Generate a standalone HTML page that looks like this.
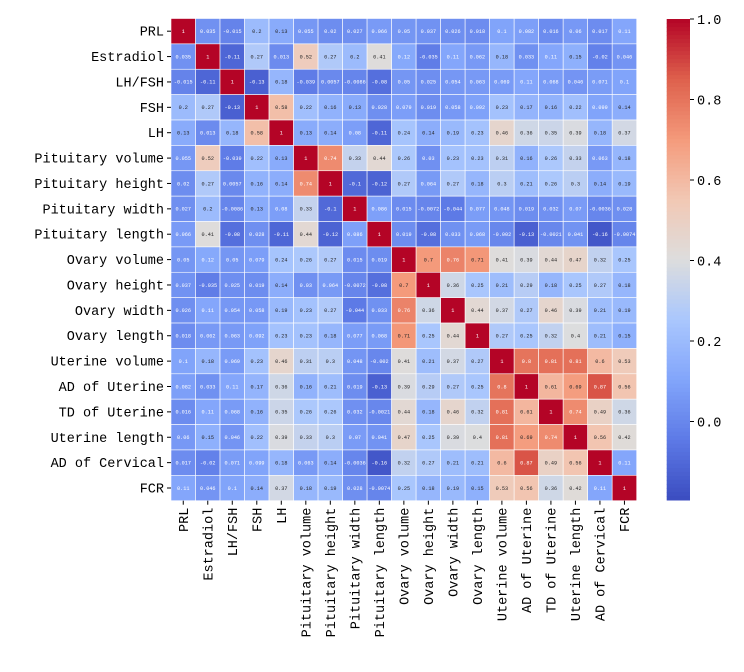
<!DOCTYPE html>
<html><head><meta charset="utf-8"><style>
body{margin:0;background:#fff;}
svg text{font-family:"Liberation Mono","DejaVu Sans Mono",monospace;}
</style></head><body>
<svg id="chart" width="744" height="667" xmlns="http://www.w3.org/2000/svg"></svg>
<script>
const labels = ["PRL","Estradiol","LH/FSH","FSH","LH","Pituitary volume","Pituitary height","Pituitary width","Pituitary length","Ovary volume","Ovary height","Ovary width","Ovary length","Uterine volume","AD of Uterine","TD of Uterine","Uterine length","AD of Cervical","FCR"];
const r0 = [1,.035,-.015,.2,.13,.055,.02,.027,.066,.05,.037,.026,.018,.1,.082,.016,.06,.017,.11];
const r1 = [.035,1,-.11,.27,.013,.52,.27,.2,.41,.12,-.035,.11,.062,.18,.033,.11,.15,-.02,.046];
const r2 = [-.015,-.11,1,-.13,.18,-.039,.0057,-.0086,-.08,.05,.025,.054,.063,.069,.11,.068,.046,.071,.1];
const r3 = [.2,.27,-.13,1,.58,.22,.16,.13,.028,.079,.019,.058,.092,.23,.17,.16,.22,.099,.14];
const r4 = [.13,.013,.18,.58,1,.13,.14,.08,-.11,.24,.14,.19,.23,.46,.36,.35,.39,.18,.37];
const r5 = [.055,.52,-.039,.22,.13,1,.74,.33,.44,.26,.03,.23,.23,.31,.16,.26,.33,.063,.18];
const r6 = [.02,.27,.0057,.16,.14,.74,1,-.1,-.12,.27,.064,.27,.18,.3,.21,.26,.3,.14,.19];
const r7 = [.027,.2,-.0086,.13,.08,.33,-.1,1,.086,.015,-.0072,-.044,.077,.048,.019,.032,.07,-.0036,.028];
const r8 = [.066,.41,-.08,.028,-.11,.44,-.12,.086,1,.019,-.08,.033,.068,-.002,-.13,-.0021,.041,-.16,-.0074];
const r9 = [.05,.12,.05,.079,.24,.26,.27,.015,.019,1,.7,.76,.71,.41,.39,.44,.47,.32,.25];
const r10 = [.037,-.035,.025,.019,.14,.03,.064,-.0072,-.08,.7,1,.36,.25,.21,.29,.18,.25,.27,.18];
const r11 = [.026,.11,.054,.058,.19,.23,.27,-.044,.033,.76,.36,1,.44,.37,.27,.46,.39,.21,.19];
const r12 = [.018,.062,.063,.092,.23,.23,.18,.077,.068,.71,.25,.44,1,.27,.25,.32,.4,.21,.15];
const r13 = [.1,.18,.069,.23,.46,.31,.3,.048,-.002,.41,.21,.37,.27,1,.8,.81,.81,.6,.53];
const r14 = [.082,.033,.11,.17,.36,.16,.21,.019,-.13,.39,.29,.27,.25,.8,1,.61,.69,.87,.56];
const r15 = [.016,.11,.068,.16,.35,.26,.26,.032,-.0021,.44,.18,.46,.32,.81,.61,1,.74,.49,.36];
const r16 = [.06,.15,.046,.22,.39,.33,.3,.07,.041,.47,.25,.39,.4,.81,.69,.74,1,.56,.42];
const r17 = [.017,-.02,.071,.099,.18,.063,.14,-.0036,-.16,.32,.27,.21,.21,.6,.87,.49,.56,1,.11];
const r18 = [.11,.046,.1,.14,.37,.18,.19,.028,-.0074,.25,.18,.19,.15,.53,.56,.36,.42,.11,1];
const matrix = [r0,r1,r2,r3,r4,r5,r6,r7,r8,r9,r10,r11,r12,r13,r14,r15,r16,r17,r18];
const cbTicks = [0.0,0.2,0.4,0.6,0.8,1.0];

const VMIN=-0.195, VMAX=1.0;
const X0=171, X1=636.7, Y0=18.5, Y1=500.7;
const n=labels.length, cw=(X1-X0)/n, ch=(Y1-Y0)/n;
const xPos=i=>X0+i*cw, yPos=i=>Y0+i*ch;
const CB={x:666.7,w:23.3,top:19,bot:500};
const cbY=v=>CB.top+(VMAX-v)/(VMAX-VMIN)*(CB.bot-CB.top);

const stops=[[0,59,76,192],[.125,93,122,230],[.25,130,165,251],[.375,170,199,253],[.5,221,221,221],[.625,242,200,180],[.75,244,154,123],[.875,222,96,76],[1,180,4,38]];
function cmap(v){
  let t=Math.max(0,Math.min(1,(v-VMIN)/(VMAX-VMIN)));
  for(let k=1;k<stops.length;k++){
    if(t<=stops[k][0]){
      const a=stops[k-1],b=stops[k],f=(t-a[0])/(b[0]-a[0]);
      return [0,1,2].map(j=>Math.round(a[j+1]+(b[j+1]-a[j+1])*f));
    }
  }
  return [180,4,38];
}
function lum(c){const l=c.map(x=>{x/=255;return x<=0.03928?x/12.92:Math.pow((x+0.055)/1.055,2.4)});return .2126*l[0]+.7152*l[1]+.0722*l[2];}
const NS="http://www.w3.org/2000/svg";
const svg=document.getElementById('chart');
function mk(t,attrs){const e=document.createElementNS(NS,t);for(const k in attrs)e.setAttribute(k,attrs[k]);svg.appendChild(e);return e;}

for(let i=0;i<n;i++){
  for(let j=0;j<n;j++){
    const v=matrix[i][j], c=cmap(v);
    const r=mk('rect',{x:xPos(j),y:yPos(i),width:cw,height:ch,fill:`rgb(${c})`,stroke:'#fff','stroke-width':0.6});
    
    
    const t=mk('text',{x:xPos(j)+cw/2,y:yPos(i)+ch/2+1.8,'text-anchor':'middle','font-size':5.2,fill:lum(c)<0.408?'#fff':'#262626'});
    t.textContent=String(v).replace(/^(-?)0\./,'$10.');
    
    
  }
}
for(let i=0;i<n;i++){
  const y=yPos(i)+ch/2;
  mk('line',{x1:X0-4,x2:X0,y1:y,y2:y,stroke:'#000','stroke-width':1});
  const t=mk('text',{x:X0-7,y:y+4.5,'text-anchor':'end','font-size':13.5,fill:'#000'});
  t.textContent=labels[i];
  
  
  const x=xPos(i)+cw/2;
  mk('line',{x1:x,x2:x,y1:Y1,y2:Y1+4,stroke:'#000','stroke-width':1});
  const tx=mk('text',{x:0,y:0,'text-anchor':'end','font-size':13.5,fill:'#000',transform:`translate(${x+4.5},${Y1+7}) rotate(-90)`});
  tx.textContent=labels[i];
  
  
}
// colorbar
const N=120;
for(let k=0;k<N;k++){
  const v1=VMAX-(VMAX-VMIN)*k/N, v2=VMAX-(VMAX-VMIN)*(k+1)/N;
  const c=cmap((v1+v2)/2);
  const r=mk('rect',{x:CB.x,y:cbY(v1),width:CB.w,height:cbY(v2)-cbY(v1)+0.5,fill:`rgb(${c})`});
  
  
}
cbTicks.forEach(v=>{
  const y=cbY(v);
  mk('line',{x1:CB.x+CB.w,x2:CB.x+CB.w+4,y1:y,y2:y,stroke:'#000','stroke-width':1});
  const t=mk('text',{x:CB.x+CB.w+7,y:y+5,'font-size':13.5,fill:'#000'});
  t.textContent=v.toFixed(1);
  
  
});
</script>
</body></html>
